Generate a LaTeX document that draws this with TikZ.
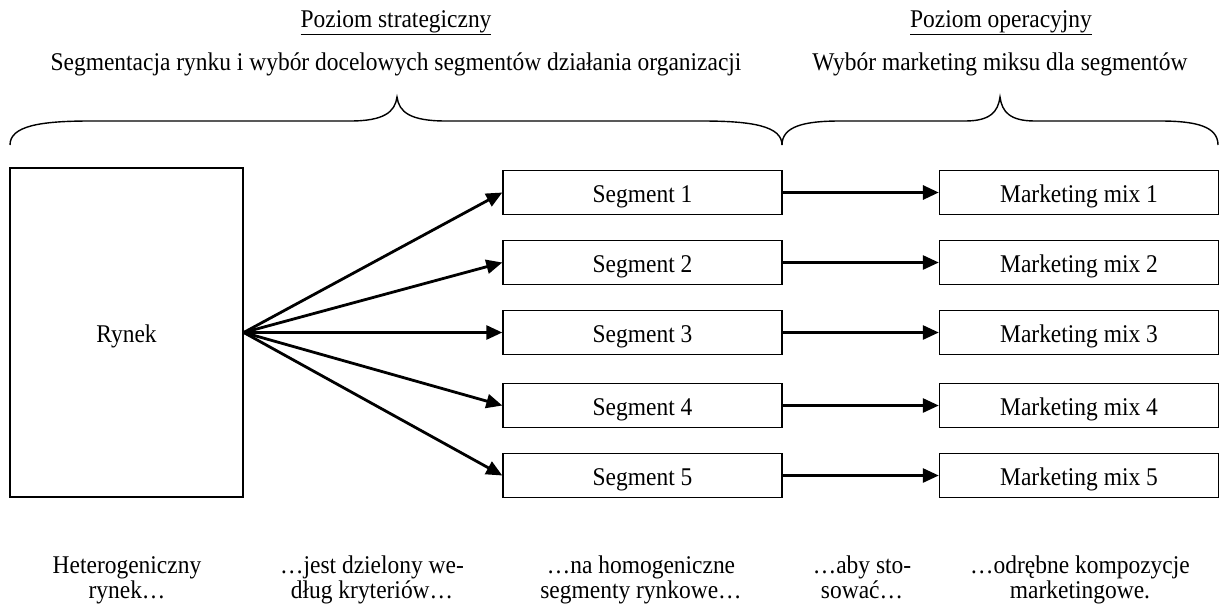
\documentclass[tikz,border=0pt]{standalone}
\usepackage{fontspec}
\setmainfont[FakeStretch=0.92]{Liberation Serif}
\usetikzlibrary{arrows.meta}
\begin{document}
\begin{tikzpicture}[x=1pt,y=-1pt,
  every node/.style={font=\fontsize{25.5}{25}\selectfont, inner sep=0pt},
  boxtext/.style={text height=20pt, text depth=0pt},
  box/.style={draw, line width=1.4pt, minimum width=279pt, minimum height=44pt, boxtext},
  label/.style={align=center, anchor=base},
  arr/.style={line width=2.8pt, -{Triangle[length=16pt,width=14pt]}},
  brace/.style={line width=1.4pt}]
\useasboundingbox (0,0) rectangle (1220,606);

% headings
\node[anchor=base] (hs) at (396,27) {\underline{Poziom strategiczny}};
\node[anchor=base] (ho) at (1001,27) {\underline{Poziom operacyjny}};
\node[anchor=base] (ts) at (396,70) {Segmentacja rynku i wybór docelowych segmentów działania organizacji};
\node[anchor=base] (to) at (1000,70) {Wybór marketing miksu dla segmentów};

% curly braces
\draw[brace] (10,145) .. controls (10,126) and (40,121) .. (90,121) -- (350,121)
  .. controls (384,121) and (395,112) .. (397,97)
  .. controls (399,112) and (410,121) .. (446,121) -- (702,121)
  .. controls (752,121) and (782,126) .. (782,145);
\draw[brace] (782,145) .. controls (782,126) and (805,121) .. (840,121) -- (965,121)
  .. controls (990,121) and (998,112) .. (1000,97)
  .. controls (1002,112) and (1010,121) .. (1035,121) -- (1160,121)
  .. controls (1195,121) and (1218,126) .. (1218,145);

% market
\node[draw, line width=1.4pt, minimum width=233pt, minimum height=329pt, boxtext] (rynek) at (126.5,332.5) {Rynek};

% segments and marketing mixes
\foreach \i/\y in {1/192.5, 2/262.5, 3/332.5, 4/405.5, 5/475.5} {
  \node[box] (s\i) at (642.5,\y) {Segment \i};
  \node[box] (m\i) at (1079,\y) {Marketing mix \i};
}

% connectors
\foreach \i in {1,...,5} {
  \draw[arr] (rynek.east) -- (s\i.west);
}
\draw[arr, line width=3.2pt] (s1) -- (m1);
\foreach \i in {2,...,5} {
  \draw[arr] (s\i) -- (m\i);
}

% captions (anchored at the baseline of their last line)
\node[label] (c1) at (127,598) {Heterogeniczny\\rynek…};
\node[label] (c2) at (372,598) {…jest dzielony we-\\dług kryteriów…};
\node[label] (c3) at (641,598) {…na homogeniczne\\segmenty rynkowe…};
\node[label] (c4) at (862,598) {…aby sto-\\sować…};
\node[label] (c5) at (1080,598) {…odrębne kompozycje\\marketingowe.};
\end{tikzpicture}
\end{document}
